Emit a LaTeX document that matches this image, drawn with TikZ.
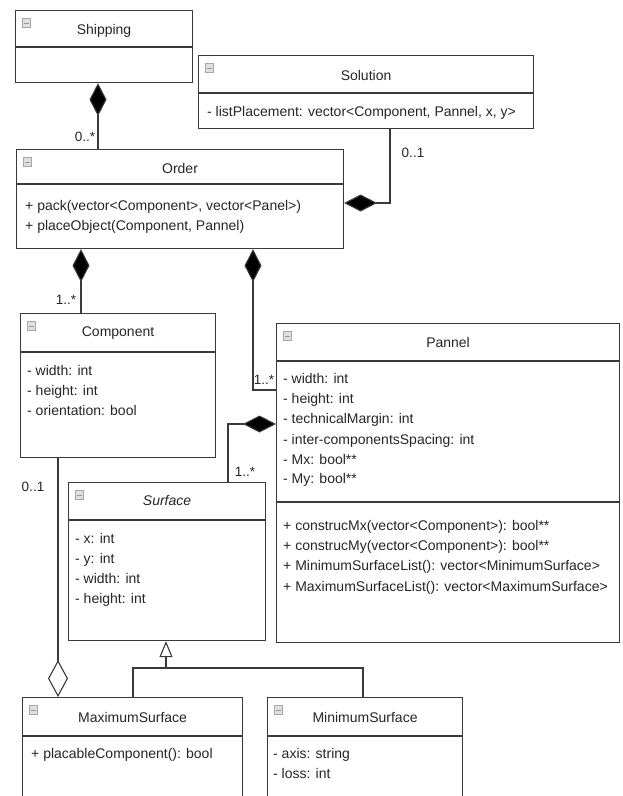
\documentclass[tikz,border=0pt]{standalone}
\usepackage{fontspec}
\setmainfont{Liberation Sans}
\usetikzlibrary{arrows.meta,calc}
\definecolor{linec}{HTML}{3A3A3A}
\definecolor{txtc}{HTML}{262626}
\begin{document}
\begin{tikzpicture}[x=1pt,y=-1pt,
  every node/.style={text=txtc},
  cls/.style={draw=linec, line width=1.1pt, fill=white, anchor=north west, inner sep=0pt},
  divl/.style={draw=linec, line width=1.1pt},
  ttl/.style={anchor=center, inner sep=0pt, font=\fontsize{14}{20}\selectfont},
  txt/.style={anchor=west, inner sep=0pt, text height=10pt, text depth=3pt, font=\fontsize{14}{20}\selectfont},
  lbl/.style={anchor=center, inner sep=0pt, font=\fontsize{13.5}{20}\selectfont},
  icon/.style={draw=gray!70, fill=gray!25, line width=0.5pt, minimum width=8pt, minimum height=9pt, inner sep=0pt,
    path picture={\draw[gray!80, line width=0.8pt] ([xshift=1.5pt]path picture bounding box.west) -- ([xshift=-1.5pt]path picture bounding box.east);}},
  conn/.style={draw=linec, line width=1.1pt},
  compo/.style={conn, {Diamond[length=33pt,width=17pt,fill=black]}-},
  aggr/.style={conn, {Diamond[open,length=37pt,width=20pt,fill=white]}-},
  gen/.style={conn, -{Triangle[open,length=16pt,width=13pt,fill=white]}}
]
\useasboundingbox (0,0) rectangle (622,796);
\fill[white] (0,0) rectangle (622,796);
\clip (0,0) rectangle (622,796);

% ---------- classes ----------
\node[cls, minimum width=177pt, minimum height=72pt] (ship) at (15,10) {};
\node[cls, minimum width=335pt, minimum height=73pt] (sol) at (198,55) {};
\node[cls, minimum width=327pt, minimum height=99pt] (order) at (16,149) {};
\node[cls, minimum width=195pt, minimum height=144pt] (comp) at (20,313) {};
\node[cls, minimum width=343pt, minimum height=319pt] (pan) at (276,323) {};
\node[cls, minimum width=197pt, minimum height=158pt] (surf) at (68,482) {};
\node[cls, minimum width=220pt, minimum height=130pt] (maxs) at (22,697) {};
\node[cls, minimum width=195pt, minimum height=130pt] (mins) at (267,697) {};

% dividers
\draw[divl] ($(ship.north west)+(0,37)$) -- ($(ship.north east)+(0,37)$);
\draw[divl] ($(sol.north west)+(0,38)$) -- ($(sol.north east)+(0,38)$);
\draw[divl] ($(order.north west)+(0,35)$) -- ($(order.north east)+(0,35)$);
\draw[divl] ($(comp.north west)+(0,39)$) -- ($(comp.north east)+(0,39)$);
\draw[divl] ($(pan.north west)+(0,38)$) -- ($(pan.north east)+(0,38)$);
\draw[divl] ($(pan.north west)+(0,179)$) -- ($(pan.north east)+(0,179)$);
\draw[divl] ($(surf.north west)+(0,38)$) -- ($(surf.north east)+(0,38)$);
\draw[divl] ($(maxs.north west)+(0,39)$) -- ($(maxs.north east)+(0,39)$);
\draw[divl] ($(mins.north west)+(0,39)$) -- ($(mins.north east)+(0,39)$);

% icons
\foreach \c in {ship,sol,order,comp,pan,surf,maxs,mins}{
  \node[icon] (icon-\c) at ($(\c.north west)+(11,13)$) {};
}

% titles
\node[ttl] (shipT) at ($(ship.north)+(0,21)$) {Shipping};
\node[ttl] (solT) at ($(sol.north)+(0,20)$) {Solution};
\node[ttl] (orderT) at ($(order.north)+(0,19)$) {Order};
\node[ttl] (compT) at ($(comp.north)+(0,20)$) {Component};
\node[ttl] (panT) at ($(pan.north)+(0,19)$) {Pannel};
\node[ttl] (surfT) at ($(surf.north)+(0,18)$) {\itshape Surface};
\node[ttl] (maxsT) at ($(maxs.north)+(0,20)$) {MaximumSurface};
\node[ttl] (minsT) at ($(mins.north)+(0,20)$) {MinimumSurface};

% members
\node[txt] (sol1) at ($(sol.north west)+(9,58)$) {- listPlacement: vector<Component, Pannel, x, y>};

\node[txt] (ord1) at ($(order.north west)+(9,58)$) {+ pack(vector<Component>, vector<Panel>)};
\node[txt] (ord2) at ($(order.north west)+(9,78)$) {+ placeObject(Component, Pannel)};

\node[txt] (cmp1) at ($(comp.north west)+(7,59)$) {- width: int};
\node[txt] (cmp2) at ($(comp.north west)+(7,79)$) {- height: int};
\node[txt] (cmp3) at ($(comp.north west)+(7,99)$) {- orientation: bool};

\node[txt] (pan1) at ($(pan.north west)+(7,57)$) {- width: int};
\node[txt] (pan2) at ($(pan.north west)+(7,77)$) {- height: int};
\node[txt] (pan3) at ($(pan.north west)+(7,97)$) {- technicalMargin: int};
\node[txt] (pan4) at ($(pan.north west)+(7,118)$) {- inter-componentsSpacing: int};
\node[txt] (pan5) at ($(pan.north west)+(7,138)$) {- Mx: bool**};
\node[txt] (pan6) at ($(pan.north west)+(7,157)$) {- My: bool**};
\node[txt] (pan7) at ($(pan.north west)+(7,204)$) {+ construcMx(vector<Component>): bool**};
\node[txt] (pan8) at ($(pan.north west)+(7,224)$) {+ construcMy(vector<Component>): bool**};
\node[txt] (pan9) at ($(pan.north west)+(7,244)$) {+ MinimumSurfaceList(): vector<MinimumSurface>};
\node[txt] (pan10) at ($(pan.north west)+(7,265)$) {+ MaximumSurfaceList(): vector<MaximumSurface>};

\node[txt] (srf1) at ($(surf.north west)+(7,58)$) {- x: int};
\node[txt] (srf2) at ($(surf.north west)+(7,78)$) {- y: int};
\node[txt] (srf3) at ($(surf.north west)+(7,98)$) {- width: int};
\node[txt] (srf4) at ($(surf.north west)+(7,118)$) {- height: int};

\node[txt] (mx1) at ($(maxs.north west)+(9,58)$) {+ placableComponent(): bool};
\node[txt] (mn1) at ($(mins.north west)+(6,58)$) {- axis: string};
\node[txt] (mn2) at ($(mins.north west)+(6,78)$) {- loss: int};

% ---------- connector helper coordinates ----------
\coordinate (xShip) at (98,0);
\coordinate (ySol) at (0,203);
\coordinate (xSol) at (390,0);
\coordinate (xComp) at (81,0);
\coordinate (xPan) at (253,0);
\coordinate (yPan) at (0,390);
\coordinate (yPanD) at (0,424);
\coordinate (xSurf) at (228,0);
\coordinate (xAgg) at (58,0);
\coordinate (xG1) at (133,0);
\coordinate (xG2) at (363,0);
\coordinate (gj) at (166,668);

% ---------- connectors ----------
\draw[compo] (ship.south -| xShip) -- (order.north -| xShip);
\draw[compo] (order.east |- ySol) -| (sol.south -| xSol);
\draw[compo] (order.south -| xComp) -- (comp.north -| xComp);
\draw[compo] (order.south -| xPan) |- (pan.west |- yPan);
\draw[compo] (pan.west |- yPanD) -| (surf.north -| xSurf);
\draw[aggr] (maxs.north -| xAgg) -- (comp.south -| xAgg);
\draw[conn] (maxs.north -| xG1) |- (gj);
\draw[conn] (mins.north -| xG2) |- (gj);
\draw[gen] (gj) -- (surf.south -| gj);

% ---------- multiplicities ----------
\node[lbl] (m1) at (85,137) {0..*};
\node[lbl] (m2) at (413,153) {0..1};
\node[lbl] (m3) at (66,300) {1..*};
\node[lbl] (m4) at (264,380) {1..*};
\node[lbl] (m5) at (245,472) {1..*};
\node[lbl] (m6) at (33,487) {0..1};
\end{tikzpicture}
\end{document}
